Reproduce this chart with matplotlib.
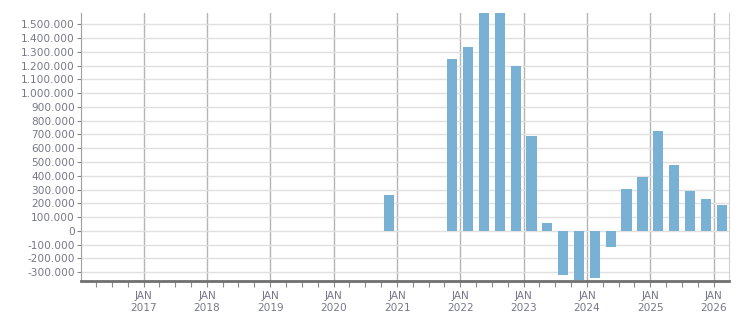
import matplotlib
matplotlib.use("Agg")
import matplotlib.pyplot as plt
import matplotlib.dates as mdates
import matplotlib.ticker as mticker
import pandas as pd

# quarterly values (bars at middle of quarter)
quarters = ["2020Q4", "2021Q4", "2022Q1", "2022Q2", "2022Q3", "2022Q4",
            "2023Q1", "2023Q2", "2023Q3", "2023Q4", "2024Q1", "2024Q2",
            "2024Q3", "2024Q4", "2025Q1", "2025Q2", "2025Q3", "2025Q4",
            "2026Q1"]
values = [261000, 1248000, 1335000, 1650000, 1630000, 1197000,
          689000, 58000, -319000, -356000, -339000, -114000,
          305000, 392000, 726000, 479000, 290000, 232000,
          189000]
year_labels = [str(y) for y in range(2017, 2027)]

bar_color = "#78b1d4"
text_color = "#77778a"

periods = [pd.Period(q, freq="Q") for q in quarters]
mids = [p.start_time + (p.end_time - p.start_time) / 2 for p in periods]
xs = mdates.date2num(mids)

fig = plt.figure(figsize=(7.51, 3.13), dpi=100)
ax = fig.add_axes([0.1079, 0.1022, 0.8628, 0.8563])

ax.bar(xs, values, width=58, color=bar_color, zorder=3)

ax.set_xlim(mdates.date2num(pd.Timestamp("2016-01-05")),
            mdates.date2num(pd.Timestamp("2026-03-30")))
ax.set_ylim(-364000, 1582000)

ax.yaxis.set_major_locator(mticker.MultipleLocator(100000))
ax.yaxis.set_major_formatter(mticker.FuncFormatter(lambda v, p: f"{int(round(v)):,}".replace(",", ".")))

jan_ticks = [mdates.date2num(pd.Timestamp(f"{y}-01-01")) for y in year_labels]
ax.set_xticks(jan_ticks)
ax.set_xticklabels([f"JAN\n{y}" for y in year_labels])
ax.xaxis.set_minor_locator(mdates.MonthLocator(bymonth=[1, 4, 7, 10]))

ax.grid(axis="y", color="#e0e0e0", lw=1, zorder=0)
ax.grid(axis="x", which="major", color="#b4b4b4", lw=1.0, zorder=1)

ax.tick_params(axis="y", colors="#888888", labelcolor=text_color, labelsize=7.6, length=3, width=0.8, pad=1.5)
ax.tick_params(axis="x", which="major", colors="#888888", labelcolor=text_color, labelsize=7.6, length=4, width=0.8, pad=3)
ax.tick_params(axis="x", which="minor", colors="#888888", length=4, width=0.8)

for lab in ax.get_xticklabels():
    lab.set_linespacing(1.25)

ax.spines["top"].set_visible(False)
ax.spines["right"].set_color("#d0d0d0")
ax.spines["left"].set_color("#a0a0a0")
ax.spines["bottom"].set_color("#707070")
ax.spines["bottom"].set_linewidth(2)
ax.spines["bottom"].set_zorder(5)

fig.savefig("out.png", dpi=100)
